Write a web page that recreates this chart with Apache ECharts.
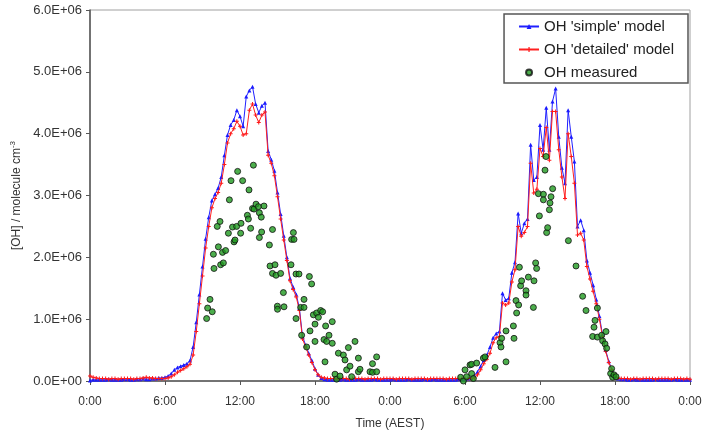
<!DOCTYPE html>
<html>
<head>
<meta charset="utf-8">
<script src="https://cdn.jsdelivr.net/npm/echarts@6/dist/echarts.min.js"></script>
<style>
  html, body { margin: 0; padding: 0; background: #fff; }
  #main { width: 708px; height: 436px; }
</style>
</head>
<body>
<div id="main"></div>
<script>
// time of day in hours (0..48), model output every 15 min
// all OH values in units of 1e6 molecule cm-3
var STEP = 0.25;

var simpleModel = [
  0.01, 0.02, 0.02, 0.02,  0.02, 0.02, 0.03, 0.02,  0.02, 0.02, 0.02, 0.03,  // 0-2h
  0.03, 0.02, 0.02, 0.03,  0.03, 0.04, 0.03, 0.03,  0.04, 0.04, 0.05, 0.05,  // 3-5h
  0.06, 0.08, 0.12, 0.18,  0.22, 0.24, 0.26, 0.28,  0.33, 0.55, 0.95, 1.40,  // 6-8h
  1.85, 2.30, 2.65, 2.92,  3.02, 3.12, 3.30, 3.65,  3.98, 4.14, 4.22, 4.38,  // 9-11h
  4.28, 4.12, 4.60, 4.70,  4.76, 4.48, 4.34, 4.45,  4.50, 3.72, 3.58, 3.40,  // 12-14h
  3.05, 2.70, 2.35, 2.00,  1.66, 1.52, 1.40, 1.18,  0.72, 0.58, 0.45, 0.33,  // 15-17h
  0.20, 0.10, 0.05, 0.03,  0.02, 0.02, 0.02, 0.02,  0.02, 0.03, 0.02, 0.02,  // 18-20h
  0.02, 0.02, 0.03, 0.02,  0.02, 0.02, 0.02, 0.03,  0.02, 0.02, 0.02, 0.02,  // 21-23h
  0.02, 0.03, 0.02, 0.02,  0.02, 0.02, 0.03, 0.02,  0.02, 0.02, 0.02, 0.03,  // 24-26h
  0.02, 0.02, 0.03, 0.02,  0.02, 0.02, 0.02, 0.02,  0.02, 0.02, 0.03, 0.03,  // 27-29h
  0.03, 0.04, 0.05, 0.09,  0.15, 0.24, 0.34, 0.42,  0.55, 0.70, 0.77, 0.80,  // 30-32h
  1.42, 1.31, 1.34, 1.75,  1.92, 2.71, 2.39, 2.55,  2.62, 3.82, 3.25, 3.30,  // 33-35h
  4.14, 3.74, 4.42, 3.74,  4.52, 4.73, 3.95, 3.45,  3.20, 4.38, 3.95, 3.55,  // 36-38h
  2.50, 2.60, 2.44, 1.95,  1.75, 1.55, 1.32, 1.05,  0.75, 0.50, 0.32, 0.18,  // 39-41h
  0.08, 0.04, 0.03, 0.03,  0.02, 0.02, 0.03, 0.02,  0.02, 0.02, 0.02, 0.02,  // 42-44h
  0.02, 0.03, 0.02, 0.02,  0.02, 0.02, 0.02, 0.03,  0.02, 0.02, 0.02, 0.02,  // 45-47h
  0.02
];

var detailedModel = [
  0.08, 0.06, 0.05, 0.04,  0.04, 0.04, 0.03, 0.04,  0.04, 0.03, 0.04, 0.04,  // 0-2h
  0.04, 0.04, 0.03, 0.04,  0.04, 0.05, 0.06, 0.05,  0.05, 0.04, 0.04, 0.04,  // 3-5h
  0.04, 0.05, 0.07, 0.10,  0.14, 0.17, 0.20, 0.23,  0.27, 0.42, 0.80, 1.25,  // 6-8h
  1.70, 2.15, 2.50, 2.80,  2.95, 3.05, 3.20, 3.50,  3.85, 4.00, 4.08, 4.20,  // 9-11h
  4.12, 3.98, 4.00, 4.38,  4.48, 4.30, 4.18, 4.30,  4.35, 3.65, 3.52, 3.32,  // 12-14h
  2.98, 2.62, 2.28, 1.95,  1.62, 1.48, 1.36, 1.14,  0.68, 0.55, 0.42, 0.30,  // 15-17h
  0.18, 0.10, 0.06, 0.05,  0.04, 0.04, 0.04, 0.03,  0.04, 0.04, 0.04, 0.03,  // 18-20h
  0.04, 0.04, 0.04, 0.04,  0.03, 0.04, 0.04, 0.04,  0.04, 0.03, 0.04, 0.04,  // 21-23h
  0.04, 0.04, 0.03, 0.04,  0.04, 0.04, 0.04, 0.03,  0.04, 0.04, 0.04, 0.04,  // 24-26h
  0.03, 0.04, 0.04, 0.04,  0.04, 0.04, 0.03, 0.04,  0.04, 0.04, 0.04, 0.04,  // 27-29h
  0.04, 0.04, 0.04, 0.05,  0.10, 0.18, 0.28, 0.35,  0.45, 0.62, 0.70, 0.72,  // 30-32h
  1.26, 1.23, 1.26, 1.60,  1.80, 2.50, 2.34, 2.40,  2.50, 3.52, 3.04, 3.10,  // 33-35h
  3.76, 3.63, 4.10, 3.57,  4.36, 4.36, 3.74, 3.30,  2.95, 4.00, 3.63, 3.20,  // 36-38h
  2.36, 2.39, 2.28, 1.85,  1.65, 1.45, 1.25, 1.00,  0.72, 0.48, 0.30, 0.18,  // 39-41h
  0.09, 0.05, 0.04, 0.04,  0.04, 0.03, 0.04, 0.04,  0.03, 0.04, 0.04, 0.04,  // 42-44h
  0.04, 0.03, 0.04, 0.04,  0.04, 0.04, 0.03, 0.04,  0.04, 0.04, 0.03, 0.04,  // 45-47h
  0.03
];

// measured OH: time (h) and value (1e6 molecule cm-3)
var measTime = [
  9.33, 9.41, 9.60, 9.78, 9.87, 9.92, 10.18, 10.27, 10.40, 10.45, 10.60, 10.67, 10.85,
  11.07, 11.15, 11.28, 11.40, 11.52, 11.60, 11.73, 11.81, 12.05, 12.08, 12.21, 12.59,
  12.72, 12.67, 12.85, 13.07, 13.00, 13.12, 13.28, 13.47, 13.55, 13.55, 13.70, 13.73,
  13.92, 14.35, 14.60, 14.40, 14.60, 14.80, 14.88, 14.99, 15.00, 15.25, 15.47, 15.52,
  16.08, 16.13, 16.32, 16.27, 16.48, 16.72, 16.48, 16.85, 17.12, 17.12, 16.93, 17.33,
  17.55, 17.73, 17.60, 17.87, 18.00, 18.00, 18.13, 18.27, 18.45, 18.61, 18.72, 18.80,
  18.85, 18.93, 19.12, 19.38, 19.38, 19.60, 19.73, 19.87, 20.00, 20.27, 20.40, 20.53,
  20.67, 20.80, 20.93, 21.20, 21.47, 21.47, 21.60, 22.40, 22.60, 22.60, 22.93, 22.93,
  29.65, 29.87, 30.00, 30.13, 30.40, 30.53, 30.53, 30.67, 30.93, 31.47, 31.60, 32.40,
  32.80, 32.88, 32.93, 33.28, 33.28, 33.87, 33.92, 34.08, 34.13, 34.29, 34.35, 34.45,
  34.53, 34.88, 34.88, 35.07, 35.47, 35.52, 35.65, 35.73, 35.87, 35.95, 36.27, 36.27,
  36.40, 36.48, 36.53, 36.61, 36.75, 36.80, 36.88, 37.01, 38.27, 38.88, 39.41, 39.68,
  40.21, 40.32, 40.40, 40.59, 40.59, 40.93, 41.01, 41.20, 41.28, 41.33, 41.65, 41.73,
  41.81, 41.92, 42.08
];
var measOH = [
  1.01, 1.18, 1.32, 1.12, 2.05, 1.82, 2.50, 2.17, 2.58, 1.88, 2.08, 1.91, 2.11,
  2.39, 2.93, 3.24, 2.49, 2.25, 2.28, 2.50, 3.39, 2.39, 2.55, 3.24, 2.68,
  3.09, 2.62, 2.47, 3.49, 2.79, 2.78, 2.86, 2.82, 2.72, 2.32, 2.65, 2.41,
  2.83, 2.20, 2.45, 1.86, 1.74, 1.88, 1.71, 1.21, 1.16, 1.74, 1.43, 1.20,
  1.88, 2.29, 2.29, 2.40, 1.73, 1.73, 1.01, 1.19, 1.19, 1.32, 0.74, 0.55,
  1.69, 1.57, 0.81, 1.07, 0.92, 0.64, 1.10, 1.03, 1.14, 1.12, 0.67, 0.31,
  0.89, 0.64, 0.74, 0.96, 0.61, 0.11, 0.03, 0.45, 0.08, 0.42, 0.34, 0.18,
  0.54, 0.24, 0.07, 0.64, 0.37, 0.15, 0.19, 0.15, 0.28, 0.14, 0.39, 0.15,
  0.06, 0.00, 0.18, 0.07, 0.26, 0.27, 0.12, 0.04, 0.29, 0.37, 0.39, 0.22,
  0.62, 0.55, 0.69, 0.81, 0.31, 0.89, 0.69, 1.30, 1.10, 1.23, 1.84, 1.54,
  1.62, 1.46, 1.39, 1.68, 1.19, 1.62, 1.91, 1.82, 3.03, 2.67, 3.02, 2.93,
  3.41, 3.63, 2.40, 2.48, 2.77, 2.88, 2.98, 3.11, 2.27, 1.86, 1.37, 1.14,
  0.72, 0.87, 0.98, 1.18, 0.71, 0.74, 0.65, 0.60, 0.80, 0.53, 0.12, 0.20,
  0.06, 0.10, 0.07
];

var xTicks = ["0:00", "6:00", "12:00", "18:00", "0:00", "6:00", "12:00", "18:00", "0:00"];
var yTicks = ["0.0E+00", "1.0E+06", "2.0E+06", "3.0E+06", "4.0E+06", "5.0E+06", "6.0E+06"];

var FONT = "'Liberation Sans', Arial, sans-serif";

function toPairs(values) {
  return values.map(function (v, i) { return [i * STEP, v]; });
}
var measData = measTime.map(function (t, i) { return [t, measOH[i]]; });

var myChart = echarts.init(document.getElementById("main"), null, { renderer: "canvas" });

var option = {
  animation: false,
  textStyle: { fontFamily: FONT, color: "#333" },
  grid: {
    left: 90, right: 18, top: 10, bottom: 55,
    show: true, borderColor: "#a0a0a0", borderWidth: 1
  },
  legend: {
    orient: "vertical",
    right: 20,
    top: 14,
    padding: [5, 14, 3, 14],
    itemGap: 8,
    itemWidth: 20,
    itemHeight: 6,
    borderColor: "#555",
    borderWidth: 1.5,
    backgroundColor: "#fff",
    textStyle: { fontFamily: FONT, fontSize: 15, color: "#222", lineHeight: 14, height: 14 },
    data: ["OH 'simple' model", "OH 'detailed' model", "OH measured"]
  },
  xAxis: {
    type: "value",
    min: 0, max: 48, interval: 6,
    name: "Time (AEST)",
    nameLocation: "middle",
    nameGap: 37,
    nameTextStyle: { fontFamily: FONT, fontSize: 12, color: "#333" },
    axisLine: { lineStyle: { color: "#555", width: 1.5 } },
    axisTick: { show: true, length: 4, lineStyle: { color: "#555" } },
    axisLabel: {
      margin: 15, fontSize: 12, color: "#333", fontFamily: FONT,
      formatter: function (v) { return xTicks[Math.round(v / 6)]; }
    },
    splitLine: { show: false }
  },
  yAxis: {
    type: "value",
    min: 0, max: 6, interval: 1,
    name: "{b|[OH] / molecule cm}{s|-3}",
    nameLocation: "middle",
    nameRotate: 90,
    nameGap: 64,
    nameTextStyle: {
      rich: {
        b: { fontFamily: FONT, fontSize: 12, color: "#333" },
        s: { fontFamily: FONT, fontSize: 8, color: "#333", padding: [0, 0, 7, 0] }
      }
    },
    axisLine: { show: true, lineStyle: { color: "#555", width: 1.5 } },
    axisTick: { show: true, length: 4, lineStyle: { color: "#555" } },
    axisLabel: {
      margin: 8, fontSize: 13, color: "#333", fontFamily: FONT,
      formatter: function (v) { return yTicks[Math.round(v)]; }
    },
    splitLine: { show: false }
  },
  series: [
    {
      name: "OH 'simple' model",
      type: "line",
      data: toPairs(simpleModel),
      symbol: "triangle",
      symbolSize: 4,
      showSymbol: true,
      showAllSymbol: true,
      color: "#1a1aff",
      lineStyle: { color: "#2020ff", width: 1 },
      itemStyle: { color: "#1a1aff" },
      z: 2
    },
    {
      name: "OH 'detailed' model",
      type: "line",
      data: toPairs(detailedModel),
      symbol: "path://M3,0H5V3H8V5H5V8H3V5H0V3H3Z",
      symbolSize: 4,
      showSymbol: true,
      showAllSymbol: true,
      color: "#ff1a1a",
      lineStyle: { color: "#ff2020", width: 1 },
      itemStyle: { color: "#ff1a1a" },
      z: 3
    },
    {
      name: "OH measured",
      type: "scatter",
      data: measData,
      symbol: "circle",
      symbolSize: 6,
      itemStyle: { color: "#1f9a1f", borderColor: "#111", borderWidth: 1 },
      z: 4
    }
  ]
};

myChart.setOption(option);
window.addEventListener("resize", function () {
  myChart.resize();
});
</script>
</body>
</html>
